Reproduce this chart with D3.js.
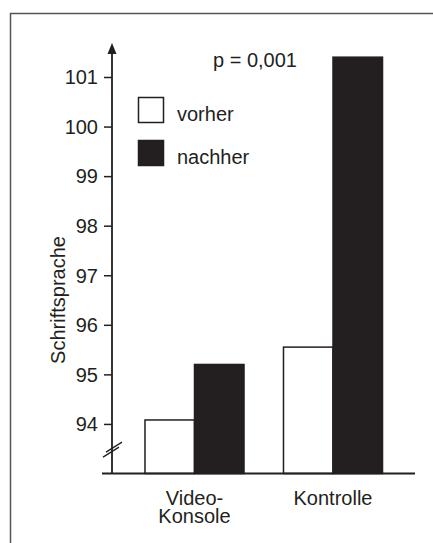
<!DOCTYPE html>
<html>
<head>
<meta charset="utf-8">
<script src="https://cdn.jsdelivr.net/npm/d3@7"></script>
<style>
  body { margin: 0; background: #fff; }
  text { font-family: "Liberation Sans", Arial, sans-serif; fill: #231f20; }
</style>
</head>
<body>
<div id="chart"></div>
<script>
// data
const groups = ["Video-Konsole", "Kontrolle"];
const groupLabels = [["Video-", "Konsole"], ["Kontrolle"]];
const series = ["vorher", "nachher"];
const vorher = [94.08, 95.55];
const nachher = [95.2, 101.4];
const yTicks = [94, 95, 96, 97, 98, 99, 100, 101];
const pText = "p = 0,001";

const W = 433, H = 543;
const ink = "#231f20";
const fs = 20;

const svg = d3.select("#chart")
  .append("svg")
  .attr("width", W)
  .attr("height", H);

// outer frame (only top and left visible)
svg.append("path")
  .attr("d", "M10.5,543 V13.5 H433")
  .attr("fill", "none")
  .attr("stroke", "#555")
  .attr("stroke-width", 1.5);

// scales
const y = d3.scaleLinear()
  .domain([93, 101])
  .range([473.5, 77]);

const x0 = d3.scaleBand()
  .domain(groups)
  .range([125.25, 402.25])
  .paddingInner(0.285)
  .paddingOuter(0.1425);

const x1 = d3.scaleBand()
  .domain(series)
  .range([0, x0.bandwidth()]);

const axisX = 112;

// y axis
const yAxis = svg.append("g")
  .attr("transform", `translate(${axisX},0)`)
  .call(d3.axisLeft(y).tickValues(yTicks).tickSize(8).tickPadding(6).tickFormat(d3.format("d")));
yAxis.select(".domain").remove();
yAxis.selectAll(".tick line").attr("stroke", ink).attr("stroke-width", 1.5);
yAxis.selectAll(".tick text")
  .style("font-family", "'Liberation Sans', Arial, sans-serif")
  .style("font-size", fs + "px")
  .attr("fill", ink)
  .attr("dy", "0.34em");

// vertical axis line with arrow
svg.append("line")
  .attr("x1", axisX).attr("x2", axisX)
  .attr("y1", y(93)).attr("y2", 50)
  .attr("stroke", ink).attr("stroke-width", 1.8);
svg.append("path")
  .attr("d", `M${axisX},43 L${axisX - 4.5},54 L${axisX + 4.5},54 Z`)
  .attr("fill", ink);

// axis break marks
[0, 1].forEach(function(k) {
  svg.append("line")
    .attr("x1", axisX - 9 + k * 3).attr("y1", y(93.33) - k * 5)
    .attr("x2", axisX + 7 + k * 3).attr("y2", y(93.33) - 10 - k * 5)
    .attr("stroke", ink).attr("stroke-width", 1.3);
});

// bars
const values = [vorher, nachher];
series.forEach(function(s, si) {
  svg.selectAll(".bar-" + s)
    .data(groups)
    .join("rect")
    .attr("class", "bar-" + s)
    .attr("x", g => x0(g) + x1(s))
    .attr("y", (g, i) => y(values[si][i]))
    .attr("width", x1.bandwidth())
    .attr("height", (g, i) => y(93) - y(values[si][i]))
    .attr("fill", si === 0 ? "#fff" : ink)
    .attr("stroke", ink)
    .attr("stroke-width", 1.5);
});

// baseline
svg.append("line")
  .attr("x1", 102).attr("x2", 415)
  .attr("y1", y(93)).attr("y2", y(93))
  .attr("stroke", ink).attr("stroke-width", 1.8);

// category labels
groups.forEach(function(g, i) {
  const t = svg.append("text")
    .attr("x", x0(g) + x0.bandwidth() / 2)
    .attr("y", 505)
    .attr("text-anchor", "middle")
    .style("font-size", fs + "px");
  groupLabels[i].forEach(function(line, li) {
    t.append("tspan")
      .attr("x", x0(g) + x0.bandwidth() / 2)
      .attr("dy", li === 0 ? 0 : 18)
      .text(line);
  });
});

// y axis title
svg.append("text")
  .attr("transform", "translate(65,300) rotate(-90)")
  .attr("text-anchor", "middle")
  .style("font-size", fs + "px")
  .text("Schriftsprache");

// legend
const legend = svg.append("g");
series.forEach(function(s, i) {
  legend.append("rect")
    .attr("x", 138.5).attr("y", 97.5 + i * 43)
    .attr("width", 25).attr("height", 25)
    .attr("fill", i === 0 ? "#fff" : ink)
    .attr("stroke", ink).attr("stroke-width", 1.5);
  legend.append("text")
    .attr("x", 177).attr("y", 121 + i * 43)
    .style("font-size", fs + "px")
    .text(s);
});

// p value
svg.append("text")
  .attr("x", 213).attr("y", 66.5)
  .style("font-size", fs + "px")
  .text(pText);
</script>
</body>
</html>
